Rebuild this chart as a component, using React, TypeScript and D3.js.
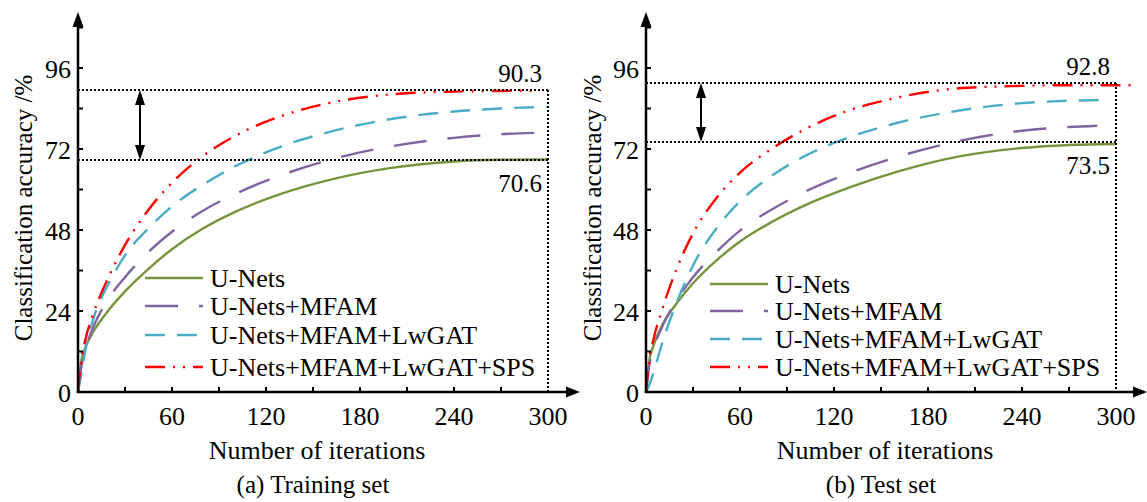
import * as d3 from 'd3';

// iterations; the last point of each series is given separately
const iterations = [0, 2, 5, 10, 20, 30, 45, 60, 80, 100, 130, 160, 200, 240, 270];
const trainEnd = [300, 292, 300, 295];
const testEnd = [300, 288, 295, 310];

const seriesNames = ['U-Nets', 'U-Nets+MFAM', 'U-Nets+MFAM+LwGAT', 'U-Nets+MFAM+LwGAT+SPS'];
const seriesColors = ['#77933c', '#8064a2', '#4bacc6', '#ff0000'];
const seriesDash = ['none', '33,21', '20,12', '20,8,2,8,2,8'];

// (a) training set
const trainUNets = [0, 9, 13.5, 18, 24.5, 29.8, 36.5, 42.3, 48.5, 53.3, 58.8, 62.8, 66.4, 68.3, 68.8, 68.9];
const trainMFAM = [0, 7, 13, 19.5, 28, 34, 41.5, 47.5, 53.8, 58.6, 64.3, 68.7, 72.8, 75.3, 76.4, 76.8];
const trainLwGAT = [0, 5, 13, 22, 32.5, 40.5, 48.5, 55, 61.5, 66.8, 72.8, 77, 80.9, 83.1, 84, 84.5];
const trainSPS = [0, 9, 16, 23.5, 34.5, 43.5, 54, 62, 70, 75.8, 81.8, 85.6, 88.2, 89, 89.2, 89.3];

// (b) test set
const testUNets = [0, 9, 14, 19.5, 26.5, 32.2, 39, 44.6, 50.3, 55, 60.6, 65.2, 69.8, 72.3, 73.2, 73.5];
const testMFAM = [0, 7.5, 13, 19, 27.5, 34, 41.5, 47.8, 54, 59, 64.9, 69.6, 74.4, 77.4, 78.5, 78.9];
const testLwGAT = [0, 2, 6, 14, 27, 37.5, 48.5, 56.5, 64, 69.6, 75.5, 79.7, 83.4, 85.6, 86.3, 86.5];
const testSPS = [0, 9, 16, 24, 37, 47, 57.5, 65, 72, 77.5, 83.5, 87.2, 90, 90.7, 90.9, 90.9];

// reference lines (where they sit on the picture) and their printed labels
const trainRefs = [89.6, 68.8];
const trainRefLabels = ['90.3', '70.6'];
const testRefs = [91.5, 74.2];
const testRefLabels = ['92.8', '73.5'];

const xTickLabels = [0, 60, 120, 180, 240, 300];
const xMinorTicks = [30, 60, 90, 120, 150, 180, 210, 240, 270];
const yTickLabels = [0, 24, 48, 72, 96];
const yMinorTicks = [12, 24, 36, 48, 60, 72, 84, 96, 108];

const font = '"Liberation Serif", "Times New Roman", serif';

type PanelProps = {
  x0: number;
  data: number[][];
  ends: number[];
  refs: number[];
  refLabels: string[];
  caption: string;
  arrowX: number;
  legendX: number;
  legendRows: number[];
  yLabelX: number;
  axisEnd: number;
};

function Panel({ x0, data, ends, refs, refLabels, caption, arrowX, legendX, legendRows, yLabelX, axisEnd }: PanelProps) {
  const y0 = 392;
  const x = d3.scaleLinear().domain([0, 300]).range([x0, x0 + 470]);
  const y = d3.scaleLinear().domain([0, 96]).range([y0, 68]);
  const line = d3
    .line<[number, number]>()
    .x(d => x(d[0]))
    .y(d => y(d[1]))
    .curve(d3.curveMonotoneX);

  const yTop = 12;
  const xTip = x0 + axisEnd;
  const top = Math.round(y(refs[0]));
  const bottom = Math.round(y(refs[1]));
  const right = Math.round(x(300));
  const txt = { fontFamily: font };
  const dotted = { stroke: '#000', strokeWidth: 2, strokeDasharray: '2,2', shapeRendering: 'crispEdges' as const };

  return (
    <g fill="#000">
      {/* curves */}
      {data.map((vals, i) => {
        const pts: [number, number][] = vals.map((v, j) => [j < iterations.length ? iterations[j] : ends[i], v]);
        return (
          <path
            key={i}
            d={line(pts) || ''}
            fill="none"
            stroke={seriesColors[i]}
            strokeWidth={2.4}
            strokeDasharray={seriesDash[i]}
          />
        );
      })}

      {/* dotted reference box */}
      {[top, bottom].map((yy, i) => (
        <line key={i} x1={x0} x2={right + 1} y1={yy} y2={yy} style={dotted} />
      ))}
      <line x1={right} x2={right} y1={top} y2={y0} style={dotted} />
      <text style={txt} x={right - 6} y={top - 8} fontSize={25} textAnchor="end">{refLabels[0]}</text>
      <text style={txt} x={right - 6} y={bottom + 32} fontSize={25} textAnchor="end">{refLabels[1]}</text>

      {/* double arrow */}
      <line x1={arrowX} x2={arrowX} y1={top + 12} y2={bottom - 12} stroke="#000" strokeWidth={2} />
      <path d={`M${arrowX},${top} L${arrowX - 5},${top + 15} L${arrowX + 5},${top + 15} Z`} />
      <path d={`M${arrowX},${bottom} L${arrowX - 5},${bottom - 15} L${arrowX + 5},${bottom - 15} Z`} />

      {/* axes */}
      <line x1={x0} x2={x0} y1={y0 + 1} y2={yTop + 10} stroke="#000" strokeWidth={2.5} />
      <path d={`M${x0},${yTop} L${x0 - 5.5},${yTop + 15} L${x0 + 5.5},${yTop + 15} Z`} />
      <line x1={x0 - 1} x2={xTip - 10} y1={y0} y2={y0} stroke="#000" strokeWidth={2.5} />
      <path d={`M${xTip},${y0} L${xTip - 14},${y0 - 5.5} L${xTip - 14},${y0 + 5.5} Z`} />

      {yMinorTicks.map(t => (
        <line key={t} x1={x0} x2={x0 + 5} y1={y(t)} y2={y(t)} stroke="#000" strokeWidth={2} />
      ))}
      {xMinorTicks.map(t => (
        <line key={t} x1={x(t)} x2={x(t)} y1={y0} y2={y0 - 5} stroke="#000" strokeWidth={2} />
      ))}
      {yTickLabels.map(t => (
        <text style={txt} key={t} x={x0 - 7} y={y(t) + 10} fontSize={26} textAnchor="end">{t}</text>
      ))}
      {xTickLabels.map(t => (
        <text style={txt} key={t} x={x(t)} y={y0 + 33} fontSize={26} textAnchor="middle">{t}</text>
      ))}

      {/* axis titles */}
      <text
        style={txt}
        transform={`translate(${yLabelX},${208}) rotate(-90)`}
        fontSize={25}
        textAnchor="middle"
      >
        Classification accuracy /%
      </text>
      <text style={txt} x={x0 + 239} y={459} fontSize={26} textAnchor="middle">Number of iterations</text>
      <text style={txt} x={x0 + 235} y={493} fontSize={25} textAnchor="middle">{caption}</text>

      {/* legend */}
      {seriesNames.map((name, i) => (
        <g key={name}>
          <line
            x1={legendX}
            x2={legendX + 58}
            y1={legendRows[i]}
            y2={legendRows[i]}
            stroke={seriesColors[i]}
            strokeWidth={2.4}
            strokeDasharray={seriesDash[i]}
          />
          <text style={txt} x={legendX + 65} y={legendRows[i] + 9} fontSize={26}>{name}</text>
        </g>
      ))}
    </g>
  );
}

export default function App() {
  return (
    <svg width={1147} height={502} style={{ position: 'absolute', left: 0, top: 0, background: '#fff', fontFamily: font }}>
      <Panel
        x0={78}
        data={[trainUNets, trainMFAM, trainLwGAT, trainSPS]}
        ends={trainEnd}
        refs={trainRefs}
        refLabels={trainRefLabels}
        caption="(a) Training set"
        arrowX={140}
        legendX={145}
        legendRows={[278, 306, 335, 367]}
        yLabelX={32}
        axisEnd={502}
      />
      <Panel
        x0={646}
        data={[testUNets, testMFAM, testLwGAT, testSPS]}
        ends={testEnd}
        refs={testRefs}
        refLabels={testRefLabels}
        caption="(b) Test set"
        arrowX={701}
        legendX={710}
        legendRows={[284, 311, 339, 367]}
        yLabelX={601}
        axisEnd={501}
      />
    </svg>
  );
}
